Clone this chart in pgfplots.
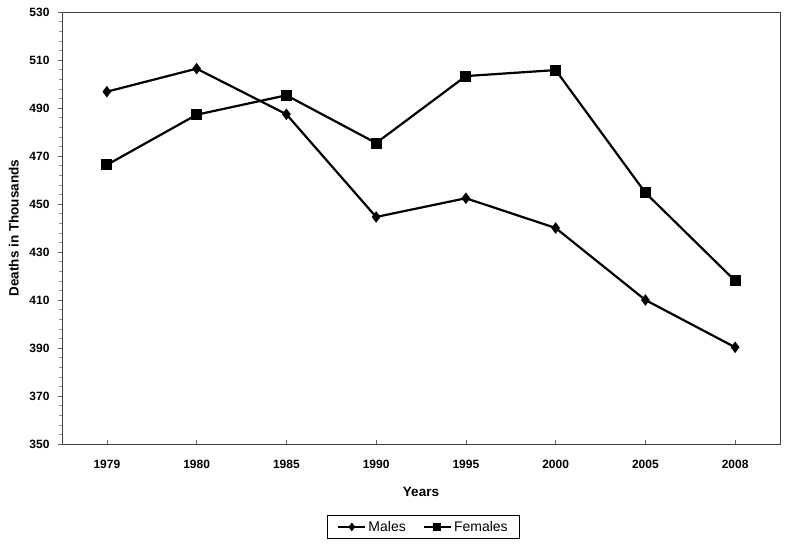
\documentclass[border=0pt]{standalone}
\usepackage{fontspec}
\setmainfont{Liberation Sans}
\usepackage{pgfplots}
\pgfplotsset{compat=1.18}
\begin{document}
\begin{tikzpicture}
\begin{axis}[
  scale only axis, width=718pt, height=432pt,
  xmin=-0.5, xmax=7.5, ymin=350, ymax=530,
  xtick={0,...,7},
  xticklabels={1979,1980,1985,1990,1995,2000,2005,2008},
  ytick={350,370,...,530}, minor y tick num=4,
  xtick pos=bottom, ytick pos=left,
  tick align=outside,
  major tick length=4pt, minor tick length=3pt,
  x tick style={yshift=4pt},
  axis line style={black!75, line width=0.8pt},
  tick style={black!60, line width=0.6pt},
  minor tick style={black!40, line width=0.5pt},
  tick label style={font=\fontsize{12}{14}\selectfont\bfseries},
  /pgf/number format/assume math mode=true,
  yticklabel style={xshift=-5pt},
  xticklabel style={yshift=-9pt},
  xlabel={Years}, ylabel={Deaths in Thousands},
  label style={font=\fontsize{13.5}{16}\selectfont\bfseries},
  xlabel style={at={(axis description cs:0.5,-0.111)}, anchor=center},
  ylabel style={at={(axis description cs:-0.067,0.5)}, anchor=center},
  legend style={at={(0.5035,-0.192)}, anchor=center, legend columns=2,
    draw=black, line width=0.6pt, font=\fontsize{14}{16}\selectfont,
    inner xsep=10pt, inner ysep=3.5pt,
    /tikz/every even column/.append style={column sep=15pt}},
  legend cell align=left,
  legend image code/.code={\draw[mark repeat=2,mark phase=2,#1] plot coordinates {(0pt,0pt) (13.5pt,0pt) (27pt,0pt)};},
  legend image post style={/tikz/every mark/.append style={scale=0.65}},
]
\addplot[black, line width=2.2pt, mark=diamond*, mark size=4pt, mark options={solid}]
  coordinates {(0,496.8) (1,506.4) (2,487.4) (3,444.6) (4,452.4) (5,440.0) (6,410.0) (7,390.3)};
\addlegendentry{Males}
\addplot[black, line width=2.2pt, mark=square*, mark size=4.4pt, mark options={solid}]
  coordinates {(0,466.3) (1,487.2) (2,495.3) (3,475.4) (4,503.3) (5,505.8) (6,454.7) (7,418.0)};
\addlegendentry{Females}
\end{axis}
\path ([xshift=-62pt,yshift=-102pt]current axis.south west) rectangle ([xshift=8pt,yshift=12pt]current axis.north east);
\end{tikzpicture}
\end{document}
